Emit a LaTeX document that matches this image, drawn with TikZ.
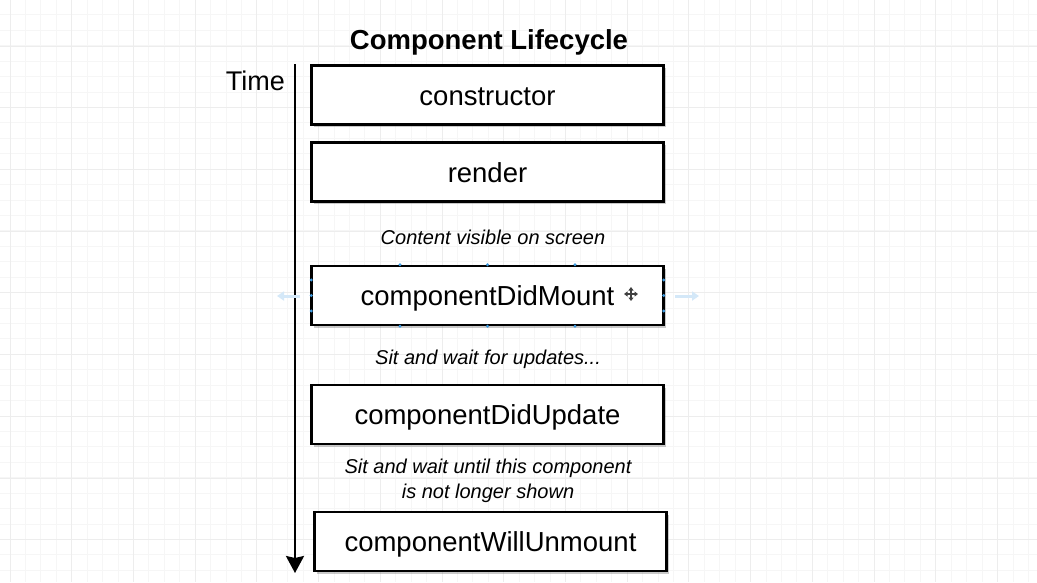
\documentclass[tikz,border=0pt]{standalone}
\usepackage{fontspec}
\setmainfont{Liberation Sans}
\usetikzlibrary{arrows.meta,shadows}

\definecolor{gridminor}{HTML}{F6F6F6}
\definecolor{gridmajor}{HTML}{EDEDED}
\definecolor{handleblue}{HTML}{3E9BE0}
\definecolor{hintblue}{HTML}{D4E8F8}

\tikzset{
  lcbox/.style={draw=black, line width=2.6pt, fill=white,
    minimum width=352pt, minimum height=59pt, inner sep=0pt,
    text height=20pt, text depth=0pt,
    font=\fontsize{27.5}{33}\selectfont,
    drop shadow={shadow xshift=2.5pt, shadow yshift=-2.5pt, opacity=0.35, fill=black!60}},
  lctitle/.style={font=\fontsize{27.5}{33}\selectfont\bfseries},
  lcnote/.style={font=\fontsize{20}{24.5}\selectfont\itshape, align=center},
  lctime/.style={font=\fontsize{27}{32}\selectfont, anchor=east, inner sep=0pt},
  timearrow/.style={line width=2.4pt, -{Stealth[length=17pt,width=18pt,inset=2pt]}},
  handle/.style={fill=handleblue, draw=none, minimum size=3.2pt, inner sep=0pt, circle},
  hint/.style={hintblue, line width=3pt, -{Triangle[length=7pt,width=9pt]}},
  movetip/.style={black!75, line width=1.5pt,
    {Triangle[length=3.5pt,width=5pt]}-{Triangle[length=3.5pt,width=5pt]}},
}

\begin{document}
\begin{tikzpicture}[x=1pt, y=-1pt]
  \useasboundingbox (0,0) rectangle (1037,582);
  \fill[white] (0,0) rectangle (1037,582);

  % background grid: fine lines, every fourth one stronger
  \foreach \i in {0,...,68} {
    \draw[gridminor, line width=0.9pt] ({-5.43+15.43*\i},0) -- ({-5.43+15.43*\i},582);
  }
  \foreach \j in {0,...,38} {
    \draw[gridminor, line width=0.9pt] (0,{-0.63+15.43*\j}) -- (1037,{-0.63+15.43*\j});
  }
  \foreach \i in {0,...,17} {
    \draw[gridmajor, line width=0.9pt] ({10+61.72*\i},0) -- ({10+61.72*\i},582);
  }
  \foreach \j in {0,...,10} {
    \draw[gridmajor, line width=0.9pt] (0,{-15.7+61.72*\j}) -- (1037,{-15.7+61.72*\j});
  }

  % title
  \node[lctitle] (title) at (489,42) {Component Lifecycle};

  % lifecycle stages
  \node[lcbox] (ctor)    at (487.5,95)    {constructor};
  \node[lcbox] (render)  at (487.5,172)   {render};
  \node[lcnote] (visible) at (493,237)    {Content visible on screen};
  \node[lcbox] (mount)   at (487.5,295.5) {componentDidMount\hspace{26pt}};
  \node[lcnote] (waitupd) at (488,359)    {Sit and wait for updates...};
  \node[lcbox] (update)  at (487.5,414.5) {componentDidUpdate};
  \node[lcnote] (waitend) at (488,481)
      {Sit and wait until this component\\is not longer shown};
  \node[lcbox] (unmount) at (490.5,541.5) {componentWillUnmount};

  % time axis
  \node[lctime] (time) at (285,81) {Time};
  \coordinate (tstart) at (295,64);
  \coordinate (tend) at (295,573);
  \draw[timearrow] (tstart) -- (tend);

  % selection handles around the selected stage
  \foreach \hx in {400,487.5,575} {
    \node[handle] at (\hx,264.8) {};
    \node[handle] at (\hx,326.2) {};
  }
  \foreach \hy in {280,295.5,311} {
    \node[handle] at (311.3,\hy) {};
    \node[handle] at (663.7,\hy) {};
  }
  \coordinate (hintL0) at (300,296);
  \coordinate (hintL1) at (277,296);
  \coordinate (hintR0) at (675,296);
  \coordinate (hintR1) at (699,296);
  \draw[hint] (hintL0) -- (hintL1);
  \draw[hint] (hintR0) -- (hintR1);

  % move cursor on the selected stage
  \coordinate (mv) at (631,294);
  \draw[movetip] ([xshift=-7pt]mv) -- ([xshift=7pt]mv);
  \draw[movetip] ([yshift=-7pt]mv) -- ([yshift=7pt]mv);
\end{tikzpicture}
\end{document}
